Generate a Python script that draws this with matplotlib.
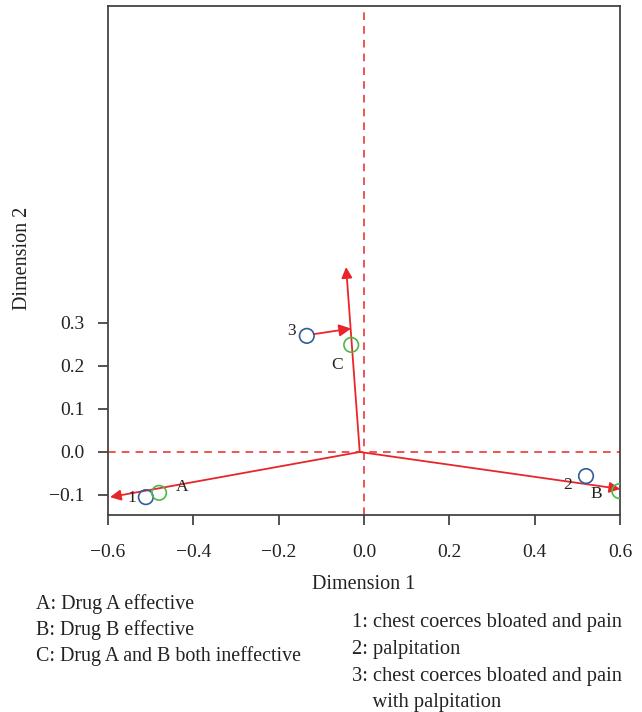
import matplotlib
matplotlib.use("Agg")
from matplotlib import pyplot as plt

plt.rcParams["font.family"] = ["Liberation Serif", "DejaVu Serif"]

# row points (symptoms, blue) and column points (drug effect, green)
sym_labels = ["1", "2", "3"]
sym_x = [-0.511, 0.520, -0.134]
sym_y = [-0.105, -0.056, 0.270]
sym_text_x = [-0.544, 0.478, -0.171]
sym_text_y = [-0.107, -0.077, 0.281]

eff_labels = ["A", "B", "C"]
eff_x = [-0.480, 0.598, -0.030]
eff_y = [-0.095, -0.091, 0.249]
eff_text_x = [-0.427, 0.544, -0.063]
eff_text_y = [-0.081, -0.098, 0.202]

# vectors from the origin to A, B, C and from 3 to the C line
origin = (-0.01, 0.0)
vec_tips = [(-0.595, -0.105), (0.600, -0.086), (-0.042, 0.430)]
arrow3_start = (-0.118, 0.274)
arrow3_end = (-0.030, 0.287)

xticks = [-0.6, -0.4, -0.2, 0.0, 0.2, 0.4, 0.6]
yticks = [-0.1, 0.0, 0.1, 0.2, 0.3]

left_notes = ["A: Drug A effective", "B: Drug B effective",
              "C: Drug A and B both ineffective"]
right_notes = ["1: chest coerces bloated and pain", "2: palpitation",
               "3: chest coerces bloated and pain", "    with palpitation"]

red = "#e8262a"
blue = "#2e5e9c"
green = "#4cb847"
grey = "#444444"
ink = "#222222"


def fmt(v):
    return ("%.1f" % v).replace("-", "\u2212")


fig = plt.figure(figsize=(6.42, 7.12), dpi=100)
ax = fig.add_axes([0.168, 0.2767, 0.798, 0.7149])
ax.set_xlim(-0.6, 0.6)
ax.set_ylim(-0.1465, 1.037)

ax.axvline(0, color=red, ls=(0, (5, 4)), lw=1.1)
ax.axhline(0, color=red, ls=(0, (5, 4)), lw=1.1)

for tx, ty in vec_tips:
    ax.annotate("", xy=(tx, ty), xytext=origin,
                arrowprops=dict(arrowstyle="-|>", color=red, lw=1.3,
                                mutation_scale=16, shrinkA=0, shrinkB=0))
ax.annotate("", xy=arrow3_end, xytext=arrow3_start,
            arrowprops=dict(arrowstyle="-|>", color=red, lw=1.3,
                            mutation_scale=18, shrinkA=0, shrinkB=0))

ax.scatter(sym_x, sym_y, s=110, facecolors="none", edgecolors=blue, lw=1.2, zorder=3)
ax.scatter(eff_x, eff_y, s=110, facecolors="none", edgecolors=green, lw=1.2, zorder=3)

for lab, x, y in zip(sym_labels, sym_text_x, sym_text_y):
    ax.text(x, y, lab, ha="center", va="center", fontsize=12.5, color=ink)
for lab, x, y in zip(eff_labels, eff_text_x, eff_text_y):
    ax.text(x, y, lab, ha="center", va="center", fontsize=12.5, color=ink)

ax.set_xticks(xticks)
ax.set_yticks(yticks)
ax.set_xticklabels([fmt(v) for v in xticks])
ax.set_yticklabels([fmt(v) for v in yticks])
ax.tick_params(direction="out", length=7, width=1.3, color=grey,
               labelsize=14, labelcolor=ink)
ax.tick_params(axis="x", pad=14)
ax.tick_params(axis="y", pad=10)
for sp in ax.spines.values():
    sp.set_color(grey)
    sp.set_linewidth(1.3)

ax.set_xlabel("Dimension 1", fontsize=14.5, color=ink, labelpad=10)
ax.set_ylabel("Dimension 2", fontsize=14.5, color=ink)
ax.yaxis.set_label_coords(-0.148, 0.505)

for i, s in enumerate(left_notes):
    fig.text(36 / 642, 1 - (604 + 26 * i) / 712, s, ha="left", va="center",
             fontsize=14.4, color=ink)
for i, s in enumerate(right_notes):
    fig.text(352 / 642, 1 - (623 + 26.5 * i) / 712, s, ha="left", va="center",
             fontsize=14.8, color=ink)

fig.savefig("out.png", dpi=100)
